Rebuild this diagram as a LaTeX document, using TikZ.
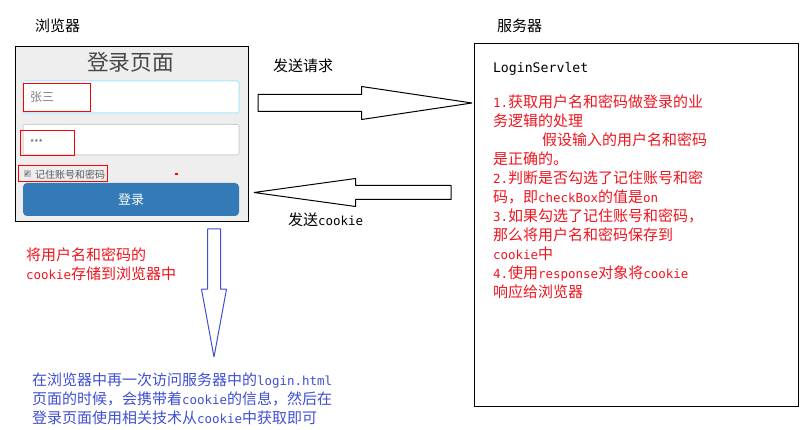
\documentclass[tikz,border=0pt]{standalone}
\usepackage{fontspec}
\usetikzlibrary{shapes.arrows}
\setmainfont{Noto Sans CJK SC}
\newfontfamily\latfont{DejaVu Sans Mono}
\newfontfamily\tickfont{DejaVu Sans}
\newcommand{\en}[1]{{\fontsize{12.5bp}{19bp}\latfont #1}}
\definecolor{notered}{HTML}{F0141E}
\definecolor{noteblue}{HTML}{3F4FD2}
\definecolor{panelgray}{HTML}{EEEEEE}
\definecolor{btnblue}{HTML}{337AB7}
\tikzset{
  every node/.style={inner sep=0pt, outer sep=0pt},
  caption/.style={anchor=north west, align=left, font=\fontsize{15bp}{19bp}\selectfont},
  inputbox/.style={draw=#1, fill=white, line width=1bp, minimum width=216bp, rounded corners=1.5bp},
  markbox/.style={draw=red, line width=1bp},
  blockarrow/.style={shape=single arrow, draw=#1, line width=1bp, line join=bevel, anchor=tail,
    single arrow head indent=0pt},
}

\begin{document}
\begin{tikzpicture}
  \useasboundingbox (0bp, 0bp) rectangle (807bp, 430bp);

  % Browser
  \node (browserlabel) at (35bp, 411bp) [caption] {浏览器};
  \node (browser) at (132bp, 295.75bp) [draw, line width=1bp, fill=panelgray, minimum width=233bp, minimum height=175.5bp] {};
  \node (title) at (130.5bp, 368bp) [text=black!72, font=\fontsize{21.7bp}{24bp}\selectfont] {登录页面};
  \node (nameinput) at (131bp, 333bp) [inputbox=blue!30!cyan!35, minimum height=32bp] {};
  \node (nametext) at (42bp, 333bp) [text=black!50, font=\fontsize{12bp}{14bp}\selectfont] {张三};
  \node (pwdinput) at (131bp, 290.25bp) [inputbox=black!18, minimum height=30.5bp] {};
  \node (pwdtext) at (36.5bp, 287.5bp) [text=black!65, font=\fontsize{9bp}{10bp}\selectfont] {***};
  \node (tickbox) at (27bp, 256.2bp) [fill=black!25, minimum width=7bp, minimum height=7bp, text=black!75, font=\fontsize{7bp}{7bp}\selectfont] {\tickfont ✓};
  \node (remember) at (70bp, 255bp) [text=black!65, font=\fontsize{10bp}{12bp}\selectfont] {记住账号和密码};
  \node (login) at (131bp, 230.5bp) [fill=btnblue, rounded corners=4bp, minimum width=216bp, minimum height=33bp, text=white, font=\fontsize{13bp}{15bp}\selectfont] {登录};

  % Red marks
  \node (namemark) at (56.75bp, 332bp) [markbox, minimum width=67.5bp, minimum height=28bp] {};
  \node (pwdmark) at (47.5bp, 286.75bp) [markbox, minimum width=54bp, minimum height=25.5bp] {};
  \node (remembermark) at (63bp, 256.25bp) [markbox, minimum width=89bp, minimum height=16.5bp] {};
  \node (dot) at (176.5bp, 256bp) [fill=red, minimum width=3bp, minimum height=2bp] {};

  % Server
  \node (serverlabel) at (497bp, 411bp) [caption] {服务器};
  \node (server) at (636.5bp, 204.75bp) [draw, line width=1bp, minimum width=324bp, minimum height=363.5bp] {};
  \node (servlet) at (493bp, 361bp) [caption, anchor=west] {{\fontsize{13.2bp}{19bp}\latfont LoginServlet}};
  \node (steps) at (493bp, 335.5bp) [caption, text=notered] {%
    \en{1.}获取用户名和密码做登录的业\\
    务逻辑的处理\\
    \hspace*{49bp}假设输入的用户名和密码\\
    是正确的。\\
    \en{2.}判断是否勾选了记住账号和密\\
    码，即\en{checkBox}的值是\en{on}\\
    \en{3.}如果勾选了记住账号和密码，\\
    那么将用户名和密码保存到\\
    \en{cookie}中\\
    \en{4.}使用\en{response}对象将\en{cookie}\\
    响应给浏览器};

  % Arrows
  \node (request) at (258bp, 327bp) [blockarrow=black, minimum height=214bp, inner ysep=8bp, single arrow head extend=8bp, single arrow tip angle=17] {};
  \node (requestlabel) at (273bp, 371bp) [caption] {发送请求};
  \node (response) at (451bp, 237.5bp) [blockarrow=black, rotate=180, minimum height=197bp, inner ysep=6.5bp, single arrow head extend=7bp, single arrow tip angle=15.7] {};
  \node (responselabel) at (288bp, 217bp) [caption] {发送\en{cookie}};
  \node (revisit) at (214bp, 201bp) [blockarrow=noteblue, rotate=-90, minimum height=128bp, inner ysep=6bp, single arrow head extend=6bp, single arrow tip angle=20.9] {};

  % Notes
  \node (stored) at (26bp, 182bp) [caption, text=notered] {将用户名和密码的\\ \en{cookie}存储到浏览器中};
  \node (again) at (32bp, 57bp) [caption, text=noteblue] {%
    在浏览器中再一次访问服务器中的\en{login.html}\\
    页面的时候，会携带着\en{cookie}的信息，然后在\\
    登录页面使用相关技术从\en{cookie}中获取即可};
\end{tikzpicture}
\end{document}
